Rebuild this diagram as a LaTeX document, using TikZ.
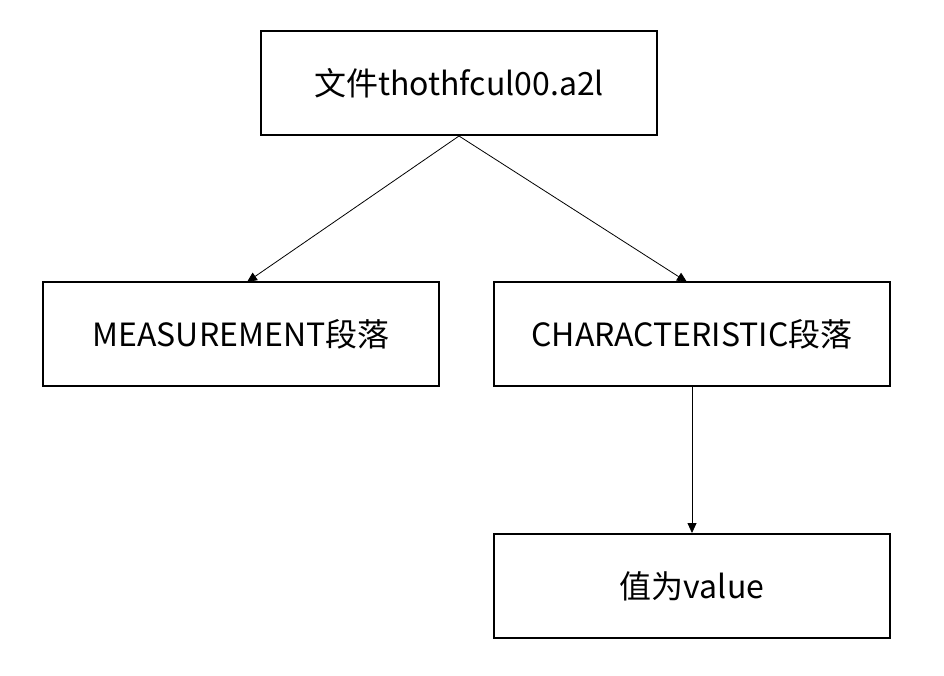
\documentclass[tikz,border=0pt]{standalone}
\usepackage{fontspec}
\setmainfont{Noto Sans CJK SC}
\usetikzlibrary{arrows.meta}
\begin{document}
\begin{tikzpicture}[x=1pt,y=-1pt,
  boxnode/.style={draw=black,line width=2pt,minimum width=396pt,minimum height=104pt,inner sep=0pt,font=\fontsize{32}{38}\selectfont},
  link/.style={line width=0.8pt,-{Triangle[length=10pt,width=9pt]}}]
\useasboundingbox (0,0) rectangle (944,675);
\node[boxnode] (top) at (459,83) {文件thothfcul00.a2l};
\node[boxnode] (meas) at (241,334) {MEASUREMENT段落};
\node[boxnode] (char) at (692,334) {CHARACTERISTIC段落};
\node[boxnode] (val) at (692,586) {值为value};
\coordinate (mt) at (247,282);
\coordinate (ct) at (687,282);
\draw[link] (top.south) -- (mt);
\draw[link] (top.south) -- (ct);
\draw[link] (char.south) -- (val.north);
\end{tikzpicture}
\end{document}
